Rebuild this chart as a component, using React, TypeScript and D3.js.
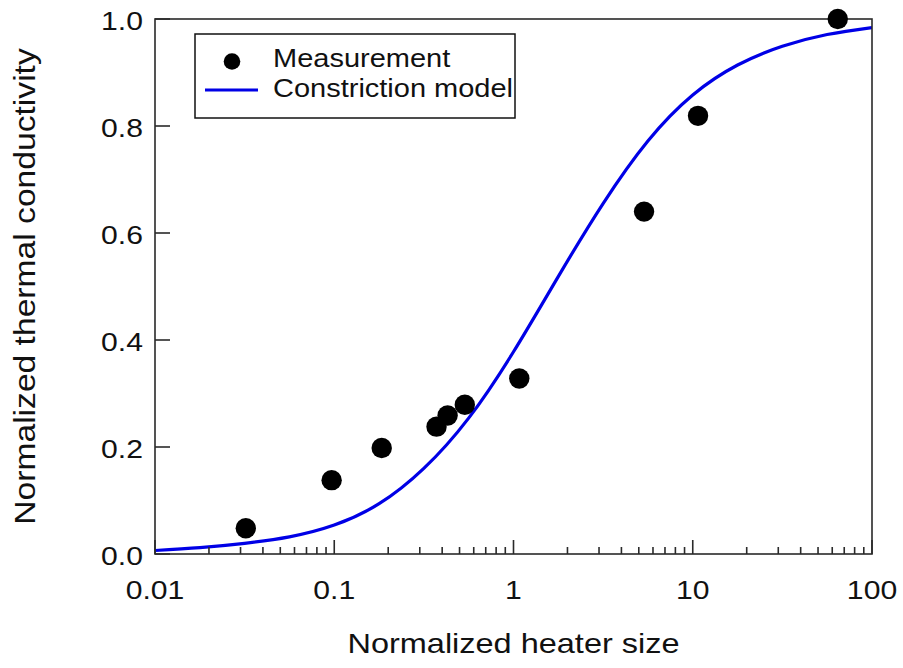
import React from "react";
import * as d3 from "d3";

// Measurement data
const heaterSize = [0.0321, 0.0967, 0.184, 0.372, 0.429, 0.535, 1.077, 5.35, 10.7, 64.4];
const conductivity = [0.048, 0.138, 0.198, 0.238, 0.259, 0.279, 0.328, 0.64, 0.819, 1.0];

// Constriction model curve (at quarter-decade steps)
const modelX = [0.01, 0.0178, 0.0316, 0.0562, 0.1, 0.178, 0.316, 0.562, 1, 1.78, 3.16, 5.62, 10, 17.8, 31.6, 56.2, 100];
const modelY = [0.0065, 0.012, 0.02, 0.032, 0.054, 0.094, 0.16, 0.254, 0.378, 0.519, 0.655, 0.772, 0.858, 0.914, 0.949, 0.971, 0.984];

// Axis ticks
const xMajorTicks = [0.01, 0.1, 1, 10, 100];
const xTickLabels = ["0.01", "0.1", "1", "10", "100"];
const yTicks = [0, 0.2, 0.4, 0.6, 0.8, 1.0];
const yTickLabels = ["0.0", "0.2", "0.4", "0.6", "0.8", "1.0"];

const legendLabels = ["Measurement", "Constriction model"];
const xTitle = "Normalized heater size";
const yTitle = "Normalized thermal conductivity";

const W = 903;
const H = 668;
const M = { left: 155, right: 872, top: 19, bottom: 554 };
const FONT = "'Liberation Sans', Arial, Helvetica, sans-serif";
const SX = 1.16;
const BLUE = "#0000e6";
const AXIS = "#2a2a2a";

export default function App() {
  const x = d3.scaleLog().domain([0.01, 100]).range([M.left, M.right]);
  const y = d3.scaleLinear().domain([0, 1]).range([M.bottom, M.top]);

  const minorTicks = x.ticks().filter((t) => !xMajorTicks.some((m) => Math.abs(m - t) / m < 1e-6));

  const line = d3
    .line<number>()
    .x((_, i) => x(modelX[i]))
    .y((d) => y(d))
    .curve(d3.curveNatural);

  const legendRows = [
    { label: legendLabels[0], base: 67 },
    { label: legendLabels[1], base: 97 },
  ];

  return (
    <svg
      width={W}
      height={H}
      style={{ position: "absolute", left: 0, top: 0, background: "#fff" }}
      fontFamily={FONT}
    >
      <rect x={0} y={0} width={W} height={H} fill="#fff" />

      <defs>
        <clipPath id="plotclip">
          <rect x={M.left} y={M.top - 2} width={M.right - M.left} height={M.bottom - M.top + 2} />
        </clipPath>
      </defs>
      <path d={line(modelY) || ""} fill="none" stroke={BLUE} strokeWidth={3.2} clipPath="url(#plotclip)" />

      {/* frame */}
      <rect
        x={M.left}
        y={M.top}
        width={M.right - M.left}
        height={M.bottom - M.top}
        fill="none"
        stroke={AXIS}
        strokeWidth={1.6}
      />

      {/* x ticks */}
      {xMajorTicks.map((t, i) => (
        <g key={"xm" + i}>
          <line x1={x(t)} x2={x(t)} y1={M.bottom} y2={M.bottom - 14} stroke={AXIS} strokeWidth={1.6} />
          <text
            transform={`translate(${x(t)},${M.bottom + 45}) scale(${SX},1)`}
            textAnchor="middle"
            fontSize={26}
            fill="#111"
          >
            {xTickLabels[i]}
          </text>
        </g>
      ))}
      {minorTicks.map((t, i) => (
        <line key={"xn" + i} x1={x(t)} x2={x(t)} y1={M.bottom} y2={M.bottom - 7} stroke={AXIS} strokeWidth={1.6} />
      ))}

      {/* y ticks */}
      {yTicks.map((t, i) => (
        <g key={"y" + i}>
          <line x1={M.left} x2={M.left + 15} y1={y(t)} y2={y(t)} stroke={AXIS} strokeWidth={1.6} />
          <text
            transform={`translate(${M.left - 12},${y(t) + 10.5}) scale(${SX},1)`}
            textAnchor="end"
            fontSize={26}
            fill="#111"
          >
            {yTickLabels[i]}
          </text>
        </g>
      ))}

      {/* data points */}
      {heaterSize.map((hx, i) => (
        <circle key={"p" + i} cx={x(hx)} cy={y(conductivity[i])} r={10.2} fill="#000" />
      ))}

      {/* legend */}
      <rect x={195} y={34} width={320} height={84} fill="#fff" stroke="#111" strokeWidth={1.5} />
      <circle cx={232} cy={61.5} r={8.3} fill="#000" />
      <line x1={205} x2={258} y1={90} y2={90} stroke={BLUE} strokeWidth={3.2} />
      {legendRows.map((r, i) => (
        <text key={"l" + i} transform={`translate(273,${r.base}) scale(${SX},1)`} fontSize={25} fill="#111">
          {r.label}
        </text>
      ))}

      {/* axis titles */}
      <text
        transform={`translate(${(M.left + M.right) / 2},653) scale(${SX},1)`}
        textAnchor="middle"
        fontSize={28}
        fill="#111"
      >
        {xTitle}
      </text>
      <text
        transform={`translate(35,${(M.top + M.bottom) / 2}) rotate(-90) scale(${SX},1)`}
        textAnchor="middle"
        fontSize={29}
        fill="#111"
      >
        {yTitle}
      </text>
    </svg>
  );
}
